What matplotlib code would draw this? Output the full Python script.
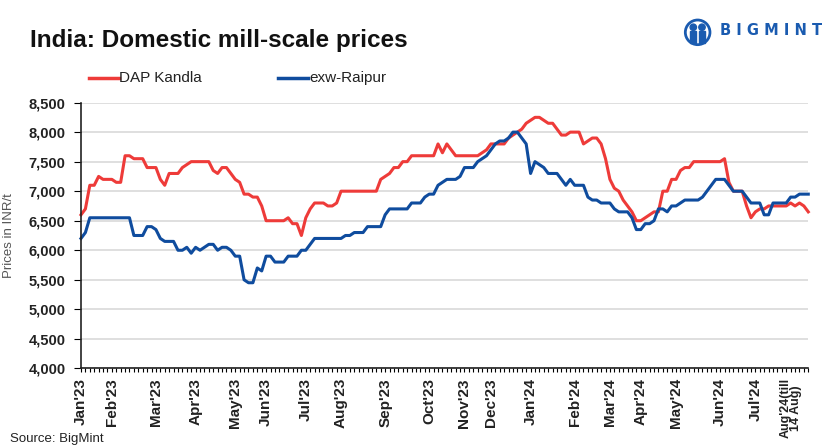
import matplotlib.pyplot as plt
from matplotlib.patches import Circle, Rectangle

# price series, one value per price update (Jan'23 .. 14 Aug'24)
dap_kandla = [
    6600, 6700, 7100, 7100, 7250, 7200, 7200, 7200, 7150, 7150,
    7600, 7600, 7550, 7550, 7550, 7400, 7400, 7400, 7200, 7100,
    7300, 7300, 7300, 7400, 7450, 7500, 7500, 7500, 7500, 7500,
    7350, 7300, 7400, 7400, 7300, 7200, 7150, 6950, 6950, 6900,
    6900, 6750, 6500, 6500, 6500, 6500, 6500, 6550, 6450, 6450,
    6250, 6550, 6700, 6800, 6800, 6800, 6750, 6750, 6800, 7000,
    7000, 7000, 7000, 7000, 7000, 7000, 7000, 7000, 7200, 7250,
    7300, 7400, 7400, 7500, 7500, 7600, 7600, 7600, 7600, 7600,
    7600, 7800, 7650, 7800, 7700, 7600, 7600, 7600, 7600, 7600,
    7600, 7650, 7700, 7800, 7800, 7800, 7800, 7900, 7950, 8000,
    8050, 8150, 8200, 8250, 8250, 8200, 8150, 8150, 8050, 7950,
    7950, 8000, 8000, 8000, 7800, 7850, 7900, 7900, 7800, 7550,
    7200, 7050, 7000, 6850, 6750, 6650, 6500, 6500, 6550, 6600,
    6650, 6650, 7000, 7000, 7200, 7200, 7350, 7400, 7400, 7500,
    7500, 7500, 7500, 7500, 7500, 7500, 7550, 7150, 7000, 7000,
    7000, 6750, 6550, 6650, 6700, 6700, 6750, 6750, 6750, 6750,
    6750, 6800, 6750, 6800, 6750, 6650,
]
exw_raipur = [
    6200, 6300, 6550, 6550, 6550, 6550, 6550, 6550, 6550, 6550,
    6550, 6550, 6250, 6250, 6250, 6400, 6400, 6350, 6200, 6150,
    6150, 6150, 6000, 6000, 6050, 5950, 6050, 6000, 6050, 6100,
    6100, 6000, 6050, 6050, 6000, 5900, 5900, 5500, 5450, 5450,
    5700, 5650, 5900, 5900, 5800, 5800, 5800, 5900, 5900, 5900,
    6000, 6000, 6100, 6200, 6200, 6200, 6200, 6200, 6200, 6200,
    6250, 6250, 6300, 6300, 6300, 6400, 6400, 6400, 6400, 6600,
    6700, 6700, 6700, 6700, 6700, 6800, 6800, 6800, 6900, 6950,
    6950, 7100, 7150, 7200, 7200, 7200, 7250, 7400, 7400, 7400,
    7500, 7550, 7600, 7700, 7800, 7850, 7850, 7900, 8000, 8000,
    7900, 7800, 7300, 7500, 7450, 7400, 7300, 7300, 7300, 7200,
    7100, 7200, 7100, 7100, 7100, 6900, 6850, 6850, 6800, 6800,
    6800, 6700, 6650, 6650, 6650, 6550, 6350, 6350, 6450, 6450,
    6500, 6700, 6700, 6650, 6750, 6750, 6800, 6850, 6850, 6850,
    6850, 6900, 7000, 7100, 7200, 7200, 7200, 7100, 7000, 7000,
    7000, 6900, 6800, 6800, 6800, 6600, 6600, 6800, 6800, 6800,
    6800, 6900, 6900, 6950, 6950, 6950,
]
month_labels = ["Jan'23", "Feb'23", "Mar'23", "Apr'23", "May'23", "Jun'23",
                "Jul'23", "Aug'23", "Sep'23", "Oct'23", "Nov'23", "Dec'23",
                "Jan'24", "Feb'24", "Mar'24", "Apr'24", "May'24", "Jun'24",
                "Jul'24", "Aug'24(till\n14 Aug)"]
month_pos = [0, 7, 17, 26, 35, 42, 51, 59, 69, 79, 87, 93,
             102, 112, 120, 127, 135, 145, 153, 161]
y_ticks = [4000, 4500, 5000, 5500, 6000, 6500, 7000, 7500, 8000, 8500]

RED = '#ee3b39'
BLUE = '#0f4c9e'
arial = ['Liberation Sans', 'DejaVu Sans']

fig = plt.figure(figsize=(8.35, 4.46), dpi=100)
ax = fig.add_axes([0.097, 0.174, 0.871, 0.596])

x = list(range(len(dap_kandla)))
ax.plot(x, dap_kandla, color=RED, lw=2.2, solid_joinstyle='round', clip_on=False)
ax.plot(x, exw_raipur, color=BLUE, lw=2.2, solid_joinstyle='round', clip_on=False)

ax.set_xlim(0, len(x) - 1)
ax.set_ylim(4000, 8500)
ax.set_yticks(y_ticks)
ax.set_yticklabels([f'{v:,}' for v in y_ticks], family=arial, fontweight='bold',
                   fontsize=10.5, color='#222222')
ax.yaxis.grid(True, color='#d9d9d9', lw=1.2)
ax.set_axisbelow(True)

# a tick at every data point, labels only at month starts
tick_labels = [''] * len(x)
for p, lab in zip(month_pos, month_labels):
    tick_labels[p] = lab
ax.set_xticks(x)
ax.set_xticklabels(tick_labels, rotation=90, family=arial, fontweight='bold',
                   fontsize=11, color='#222222', linespacing=0.85)
# the last (two-line) label is smaller so it stays inside the figure
ax.get_xticklabels()[month_pos[-1]].set_fontsize(9)
ax.tick_params(axis='x', length=3, width=0.8, pad=4)
ax.tick_params(axis='y', length=5, width=0.8, pad=6)

for s in ['top', 'right']:
    ax.spines[s].set_visible(False)
for s in ['left', 'bottom']:
    ax.spines[s].set_linewidth(1.2)
    ax.spines[s].set_color('#222222')

ax.set_ylabel('Prices in INR/t', family=arial, fontsize=9.5, color='#555555', labelpad=10)

fig.text(0.036, 0.91, 'India: Domestic mill-scale prices', family=arial,
         fontweight='bold', fontsize=17.5, va='center', ha='left', color='#111111')

# legend drawn by hand to match the layout
fig.lines.append(plt.Line2D([0.106, 0.142], [0.826, 0.826], color=RED, lw=2.5,
                            transform=fig.transFigure))
fig.text(0.143, 0.826, 'DAP Kandla', family=arial, fontsize=11, va='center', color='#222222')
fig.lines.append(plt.Line2D([0.333, 0.369], [0.826, 0.826], color=BLUE, lw=2.5,
                            transform=fig.transFigure))
fig.text(0.370, 0.826, 'exw-Raipur', family=arial, fontsize=11, va='center', color='#222222')

# BIGMINT logo
logo = fig.add_axes([0.818, 0.895, 0.035, 0.065])
logo.set_xlim(-1, 1)
logo.set_ylim(-1, 1)
logo.set_aspect('equal')
logo.axis('off')
logo.add_patch(Circle((0, 0), 0.85, fill=False, ec='#1a5bb0', lw=2))
logo.add_patch(Circle((-0.3, 0.35), 0.22, color='#1a5bb0'))
logo.add_patch(Circle((0.3, 0.35), 0.22, color='#1a5bb0'))
logo.add_patch(Rectangle((-0.5, -0.75), 0.38, 0.85, color='#1a5bb0'))
logo.add_patch(Rectangle((0.12, -0.75), 0.38, 0.85, color='#1a5bb0'))
fig.text(0.985, 0.932, 'B I G M I N T', family=['DejaVu Sans'], fontweight='bold',
         fontsize=10.5, va='center', ha='right', color='#1a5bb0')

fig.text(0.012, 0.002, 'Source: BigMint', family=arial, fontsize=9.5, va='bottom',
         color='#222222')

fig.savefig('out.png', dpi=100)
